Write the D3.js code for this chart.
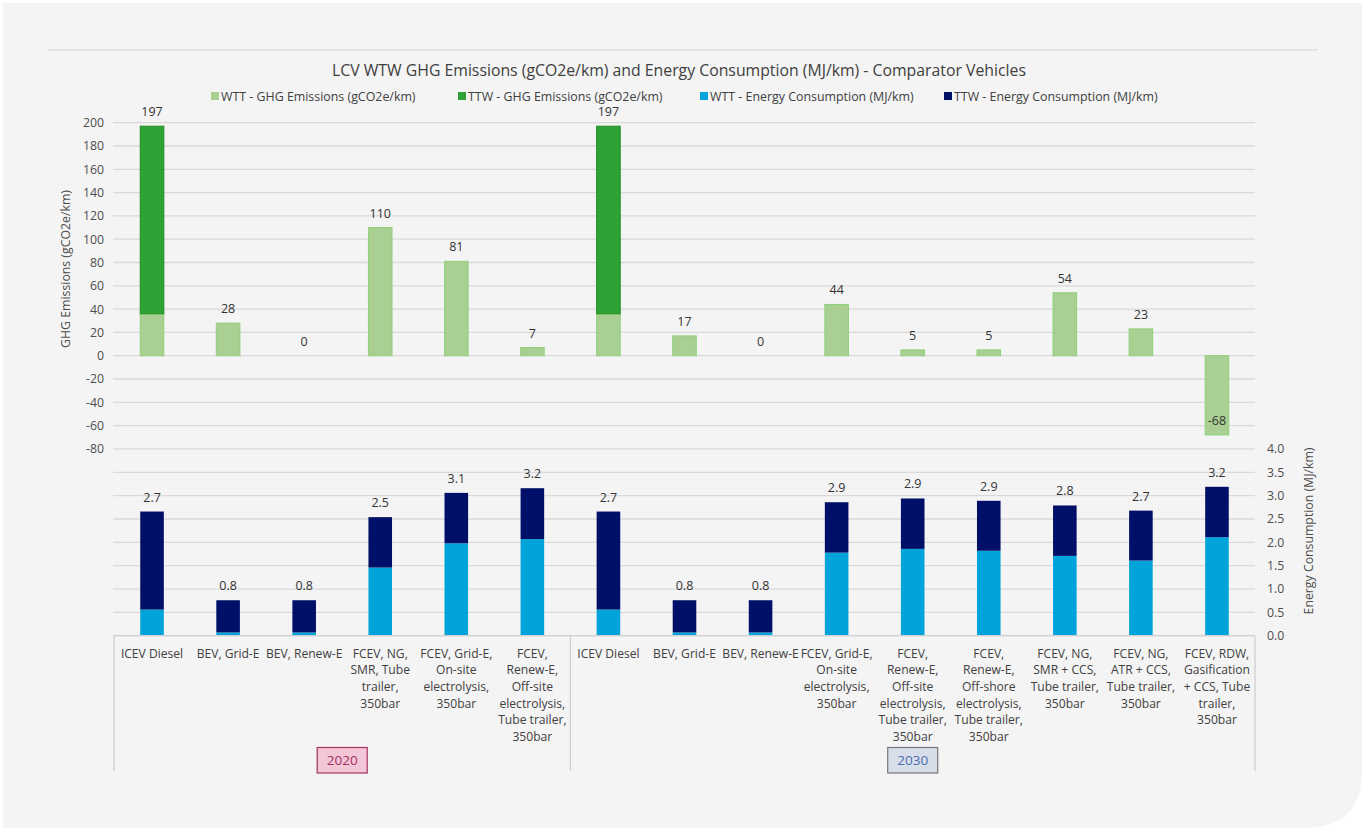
<!DOCTYPE html>
<html>
<head>
<meta charset="utf-8">
<script src="https://cdn.jsdelivr.net/npm/d3@7"></script>
<style>
  html, body { margin: 0; padding: 0; background: #ffffff; }
  svg { display: block; }
  text { font-family: "Open Sans", "Noto Sans", sans-serif; }
</style>
</head>
<body>
<svg id="chart" width="1365" height="830"></svg>
<script>
// Vehicle pathways (line breaks follow the category axis wrapping)
const categories = [
  "ICEV Diesel",
  "BEV, Grid-E",
  "BEV, Renew-E",
  "FCEV, NG,\nSMR, Tube\ntrailer,\n350bar",
  "FCEV, Grid-E,\nOn-site\nelectrolysis,\n350bar",
  "FCEV,\nRenew-E,\nOff-site\nelectrolysis,\nTube trailer,\n350bar",
  "ICEV Diesel",
  "BEV, Grid-E",
  "BEV, Renew-E",
  "FCEV, Grid-E,\nOn-site\nelectrolysis,\n350bar",
  "FCEV,\nRenew-E,\nOff-site\nelectrolysis,\nTube trailer,\n350bar",
  "FCEV,\nRenew-E,\nOff-shore\nelectrolysis,\nTube trailer,\n350bar",
  "FCEV, NG,\nSMR + CCS,\nTube trailer,\n350bar",
  "FCEV, NG,\nATR + CCS,\nTube trailer,\n350bar",
  "FCEV, RDW,\nGasification\n+ CCS, Tube\ntrailer,\n350bar"
];
const years = ["2020", "2030"];

// GHG emissions, gCO2e/km
const ghgWTT = [36, 28, 0, 110, 81, 7, 36, 17, 0, 44, 5, 5, 54, 23, -68];
const ghgTTW = [161, 0, 0, 0, 0, 0, 161, 0, 0, 0, 0, 0, 0, 0, 0];

// Energy consumption, MJ/km
const energyWTT = [0.56, 0.07, 0.07, 1.46, 1.98, 2.07, 0.56, 0.07, 0.07, 1.78, 1.86, 1.82, 1.71, 1.61, 2.11];
const energyTTW = [2.10, 0.69, 0.69, 1.08, 1.08, 1.09, 2.10, 0.69, 0.69, 1.08, 1.08, 1.07, 1.08, 1.07, 1.08];

const ghgTicks = [-80, -60, -40, -20, 0, 20, 40, 60, 80, 100, 120, 140, 160, 180, 200];
const energyTicks = [0, 0.5, 1, 1.5, 2, 2.5, 3, 3.5, 4];

const legendItems = [
  "WTT - GHG Emissions (gCO2e/km)",
  "TTW - GHG Emissions (gCO2e/km)",
  "WTT - Energy Consumption (MJ/km)",
  "TTW - Energy Consumption (MJ/km)"
];

const colors = {
  ghgWTT: "#a9cf93", ghgWTTEdge: "#8fd07a",
  ghgTTW: "#2fa236", ghgTTWEdge: "#1f8f25",
  enWTT: "#00a4db", enTTW: "#000f68"
};
const legendColors = [colors.ghgWTT, colors.ghgTTW, colors.enWTT, colors.enTTW];

const locale = d3.formatLocale({ decimal: ".", thousands: ",", grouping: [3], currency: ["", ""], minus: "-" });
const fmtInt = locale.format(".0f");
const fmt1 = locale.format(".1f");

const svg = d3.select("#chart");

// card background with the rounded lower-right corner
svg.append("path")
  .attr("d", "M3,3 H1362 V770 Q1362,828 1304,828 H3 Z")
  .attr("fill", "#f4f4f4");

// header rule
svg.append("line")
  .attr("x1", 48).attr("x2", 1318).attr("y1", 50).attr("y2", 50)
  .attr("stroke", "#d4d4d4").attr("stroke-width", 1);

svg.append("text")
  .attr("x", 679).attr("y", 75.5)
  .attr("text-anchor", "middle")
  .attr("font-size", 15.8)
  .attr("fill", "#404040")
  .text("LCV WTW GHG Emissions (gCO2e/km) and Energy Consumption (MJ/km) - Comparator Vehicles");

// legend
const legendX = [211, 458, 700, 944];
const lg = svg.append("g");
legendItems.forEach((t, i) => {
  lg.append("rect")
    .attr("x", legendX[i]).attr("y", 92).attr("width", 8).attr("height", 8)
    .attr("fill", legendColors[i]);
  lg.append("text")
    .attr("x", legendX[i] + 10).attr("y", 100.5)
    .attr("font-size", 12.4)
    .attr("fill", "#404040")
    .text(t);
});

// scales
const x = d3.scaleBand().domain(d3.range(categories.length)).range([114, 1255]).padding(0);
const barW = x.bandwidth() * 0.31;
const cx = i => x(i) + x.bandwidth() / 2;

const yG = d3.scaleLinear().domain([-80, 200]).range([448.9, 122.7]);
const yE = d3.scaleLinear().domain([0, 4]).range([635.7, 449]);

// gridlines spanning both panels
const grid = svg.append("g");
ghgTicks.forEach(v => {
  grid.append("line").attr("x1", 113).attr("x2", 1255)
    .attr("y1", yG(v)).attr("y2", yG(v))
    .attr("stroke", "#d9d9d9").attr("stroke-width", 1.3);
});
energyTicks.filter(v => v < 4).forEach(v => {
  grid.append("line").attr("x1", 113).attr("x2", 1255)
    .attr("y1", yE(v)).attr("y2", yE(v))
    .attr("stroke", "#d9d9d9").attr("stroke-width", 1.3);
});

// left axis
const axL = svg.append("g").attr("transform", "translate(104,0)")
  .call(d3.axisLeft(yG).tickValues(ghgTicks).tickSize(0).tickPadding(0).tickFormat(fmtInt));
axL.select(".domain").remove();
axL.selectAll("text").attr("font-size", 12.3).attr("fill", "#4d4d4d").style("font-family", "'Open Sans', sans-serif");

// right axis
const axR = svg.append("g").attr("transform", "translate(1267,0)")
  .call(d3.axisRight(yE).tickValues(energyTicks).tickSize(0).tickPadding(0).tickFormat(fmt1));
axR.select(".domain").remove();
axR.selectAll("text").attr("font-size", 12.3).attr("fill", "#4d4d4d").style("font-family", "'Open Sans', sans-serif");

svg.append("text")
  .attr("transform", "translate(70,269) rotate(-90)")
  .attr("text-anchor", "middle").attr("font-size", 12.3).attr("fill", "#4d4d4d")
  .text("GHG Emissions (gCO2e/km)");
svg.append("text")
  .attr("transform", "translate(1313,531) rotate(-90)")
  .attr("text-anchor", "middle").attr("font-size", 12.3).attr("fill", "#4d4d4d")
  .text("Energy Consumption (MJ/km)");

// GHG stacked columns
const ghgRows = categories.map((c, i) => ({ i, wtt: ghgWTT[i], ttw: ghgTTW[i] }));
const ghgStack = d3.stack().keys(["wtt", "ttw"]).offset(d3.stackOffsetDiverging)(ghgRows);
const ghgFill = { wtt: [colors.ghgWTT, colors.ghgWTTEdge], ttw: [colors.ghgTTW, colors.ghgTTWEdge] };
ghgStack.forEach(layer => {
  svg.append("g").selectAll("rect")
    .data(layer.filter(d => d[1] !== d[0]))
    .join("rect")
    .attr("x", d => cx(d.data.i) - barW / 2)
    .attr("width", barW)
    .attr("y", d => yG(Math.max(d[0], d[1])))
    .attr("height", d => Math.abs(yG(d[0]) - yG(d[1])))
    .attr("fill", ghgFill[layer.key][0])
    .attr("stroke", ghgFill[layer.key][1])
    .attr("stroke-width", 1);
});

// GHG totals
svg.append("g").selectAll("text")
  .data(ghgRows)
  .join("text")
  .attr("x", d => cx(d.i))
  .attr("y", d => yG(d.wtt + d.ttw) - 10)
  .attr("text-anchor", "middle").attr("font-size", 12.5).attr("fill", "#333333")
  .text(d => fmtInt(d.wtt + d.ttw));

// energy stacked columns
const enRows = categories.map((c, i) => ({ i, wtt: energyWTT[i], ttw: energyTTW[i] }));
const enStack = d3.stack().keys(["wtt", "ttw"])(enRows);
const enFill = { wtt: colors.enWTT, ttw: colors.enTTW };
enStack.forEach(layer => {
  svg.append("g").selectAll("rect")
    .data(layer)
    .join("rect")
    .attr("x", d => cx(d.data.i) - barW / 2)
    .attr("width", barW)
    .attr("y", d => yE(d[1]))
    .attr("height", d => yE(d[0]) - yE(d[1]))
    .attr("fill", enFill[layer.key]);
});

svg.append("g").selectAll("text")
  .data(enRows)
  .join("text")
  .attr("x", d => cx(d.i))
  .attr("y", d => yE(d.wtt + d.ttw) - 10)
  .attr("text-anchor", "middle").attr("font-size", 12.5).attr("fill", "#333333")
  .text(d => fmt1(d.wtt + d.ttw));

// category axis with year grouping
const axisY = yE(0);
const gx = svg.append("g");
gx.append("line").attr("x1", 114).attr("x2", 1255).attr("y1", axisY).attr("y2", axisY)
  .attr("stroke", "#d0d0d0").attr("stroke-width", 1.3);
const groupEdges = [x(0), x(6), x(categories.length - 1) + x.bandwidth()];
groupEdges.forEach(ex => {
  gx.append("line").attr("x1", ex).attr("x2", ex).attr("y1", axisY).attr("y2", 771)
    .attr("stroke", "#d0d0d0").attr("stroke-width", 1.3);
});

categories.forEach((c, i) => {
  const t = gx.append("text")
    .attr("x", cx(i)).attr("y", 657.5)
    .attr("text-anchor", "middle").attr("font-size", 12.1).attr("fill", "#404040");
  c.split("\n").forEach((line, k) => {
    t.append("tspan").attr("x", cx(i)).attr("dy", k === 0 ? 0 : 16.7).text(line);
  });
});

const yearStyle = [
  { fill: "#f3c6d8", stroke: "#a3325f", text: "#a3325f" },
  { fill: "#d7dee9", stroke: "#777777", text: "#4a6db0" }
];
years.forEach((yr, g) => {
  const mid = (groupEdges[g] + groupEdges[g + 1]) / 2;
  gx.append("rect")
    .attr("x", mid - 25).attr("y", 747.5).attr("width", 50).attr("height", 25.5)
    .attr("fill", yearStyle[g].fill).attr("stroke", yearStyle[g].stroke).attr("stroke-width", 1.2);
  gx.append("text")
    .attr("x", mid).attr("y", 765)
    .attr("text-anchor", "middle").attr("font-size", 13.5).attr("fill", yearStyle[g].text)
    .text(yr);
});
</script>
</body>
</html>
